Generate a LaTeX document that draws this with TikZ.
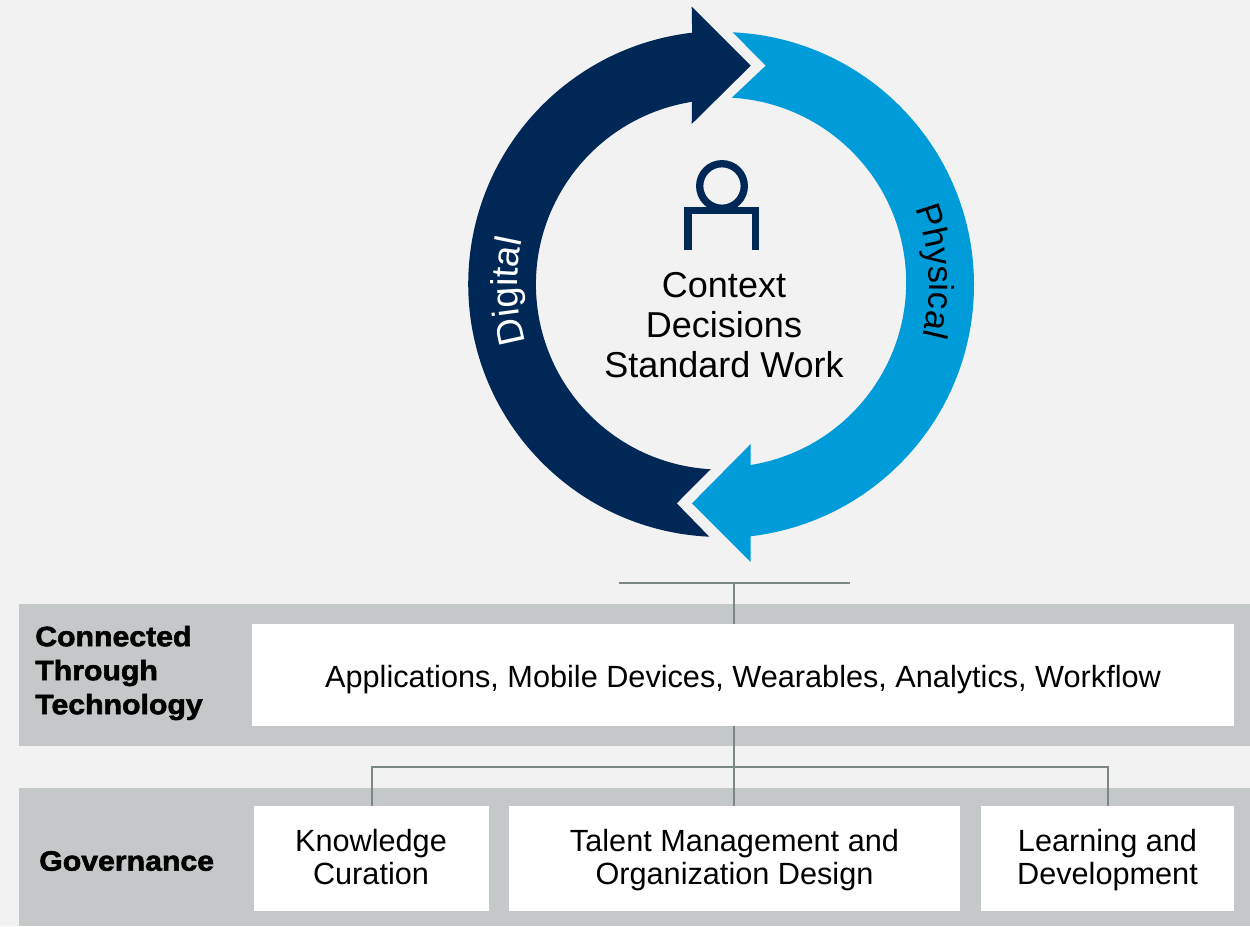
\documentclass[tikz,border=0pt]{standalone}
\usepackage{fontspec}
\setmainfont{Liberation Sans}
\newfontfamily\blackfont[FakeBold=2,FakeStretch=1.08]{Liberation Sans Bold}
\usetikzlibrary{decorations.text}
\definecolor{pagebg}{HTML}{F2F2F2}
\definecolor{bandgray}{HTML}{C4C8C8}
\definecolor{navy}{HTML}{002856}
\definecolor{skyblue}{HTML}{009CD9}
\definecolor{linegray}{HTML}{7A8785}
\tikzset{
  band/.style={fill=bandgray,draw=none,inner sep=0pt,outer sep=0pt,anchor=north west},
  wbox/.style={fill=white,draw=none,inner sep=0pt,outer sep=0pt,anchor=north west},
  boxtext/.style={align=center,inner sep=0pt,font=\fontsize{23}{24.75}\selectfont},
  conn/.style={draw=linegray,line width=1.5pt},
  head/.style={align=left,anchor=west,inner sep=0pt,font=\blackfont\fontsize{21}{25.5}\selectfont},
}
\begin{document}
\begin{tikzpicture}[x=0.75pt,y=-0.75pt]
\useasboundingbox (0,0) rectangle (1250,926);
\fill[pagebg] (0,0) rectangle (1250,926);
% bands
\node[band,minimum width=1231*0.75pt,minimum height=142*0.75pt] (b1) at (19,604) {};
\node[band,minimum width=1231*0.75pt,minimum height=138*0.75pt] (b2) at (19,788) {};
% white boxes
\node[wbox,minimum width=982*0.75pt,minimum height=102*0.75pt] (apps) at (252,624) {};
\node[wbox,minimum width=235*0.75pt,minimum height=104.5*0.75pt] (know) at (254,806) {};
\node[wbox,minimum width=451*0.75pt,minimum height=104.5*0.75pt] (talent) at (509,806) {};
\node[wbox,minimum width=253*0.75pt,minimum height=104.5*0.75pt] (learn) at (981,806) {};
% box texts
\node[boxtext] (appst) at (743,680) {Applications, Mobile Devices, Wearables, Analytics, Workflow};
\node[boxtext] (knowt) at (371,857) {Knowledge\\Curation};
\node[boxtext] (talentt) at (734.5,860.5) {Talent Management and\\Organization Design};
\node[boxtext] (learnt) at (1107.5,860.5) {Learning and\\Development};
\node[head] (h1) at (35,673) {Connected\\Through\\Technology};
\node[head] (h2) at (39,861) {Governance};
% connectors
\coordinate (tl) at (619,583);
\coordinate (tr) at (850,583);
\coordinate (tm) at (734,583);
\coordinate (busl) at (372,766.5);
\coordinate (busr) at (1107.5,766.5);
\draw[conn] (tl) -- (tr);
\draw[conn] (tm) -- (apps.north -| tm);
\draw[conn] (apps.south -| tm) -- (talent.north -| tm);
\draw[conn] (know.north -| busl) -- (busl) -- (busr) -- (learn.north -| busr);
% arrows
\def\cx{721}\def\cy{284.5}
\begin{scope}[shift={(\cx,\cy)}]
\fill[navy] (709.3-\cx,536.7-\cy)
  arc[start angle=92.7,end angle=263.4,radius=253]
  -- (691.7-\cx,6.7-\cy) -- (750.7-\cx,65.7-\cy) -- (691.7-\cx,124-\cy)
  -- (692-\cx,101.8-\cy)
  arc[start angle=261,end angle=93.2,radius=185]
  -- (676.7-\cx,503.3-\cy) -- cycle;
\fill[skyblue] (732.7-\cx,32.3-\cy)
  arc[start angle=272.65,end angle=443.3,radius=253]
  -- (750.7-\cx,562-\cy) -- (692-\cx,503.3-\cy) -- (750.7-\cx,444-\cy)
  -- (750.7-\cx,465-\cy)
  arc[start angle=80.8,end angle=-86.7,radius=185]
  -- (765.7-\cx,65.7-\cy) -- cycle;
% labels on arcs
\path[decorate,decoration={text along path,text align=center,
   text={|\fontsize{28}{30}\selectfont\color{white}|Digital}}]
  (138.2:203.5) arc[start angle=138.2,end angle=218.2,radius=203.5];
\path[decorate,decoration={text along path,text align=center,
   text={|\fontsize{26}{30}\selectfont\color{black}|Physical}}]
  (-43.6:208) arc[start angle=-43.6,end angle=36.4,radius=208];
\end{scope}
% person icon
\draw[navy,line width=5.5pt] (722,186) circle[radius=22.3];
\draw[navy,line width=5.5pt] (688,250) -- (688,210.5) -- (755.6,210.5) -- (755.6,250);
% center text
\node[align=center,inner sep=0pt,font=\fontsize{27}{30}\selectfont] (ctx) at (724,325.5) {Context\\Decisions\\Standard Work};
\end{tikzpicture}
\end{document}
